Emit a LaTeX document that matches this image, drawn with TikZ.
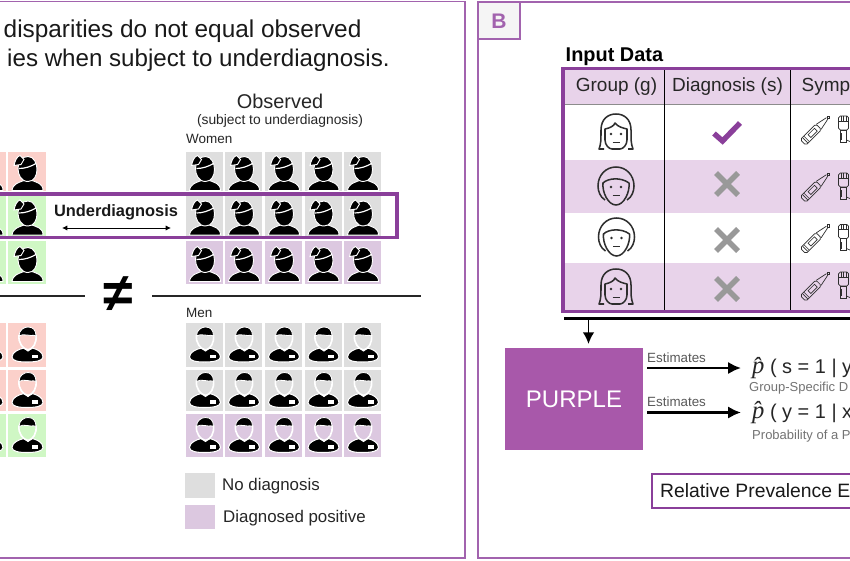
\documentclass[tikz,border=0pt]{standalone}
\usepackage{amsmath,amssymb}
\usepackage{fontspec}
\setmainfont{Liberation Sans}
\newfontfamily\hatfont{Liberation Serif}
\usepackage{tikz}
\usetikzlibrary{calc}
\usetikzlibrary{arrows.meta}
\tikzset{>=latex}
\definecolor{panelpurple}{HTML}{A263AE}
\definecolor{darkpurple}{HTML}{8A3F9A}
\definecolor{rowpurple}{HTML}{E8D3EA}
\definecolor{cellpurple}{HTML}{DCC8E0}
\definecolor{cellgray}{HTML}{DEDEDE}
\definecolor{cellred}{HTML}{FBD0CA}
\definecolor{cellgreen}{HTML}{CFF7C4}
\definecolor{blockpurple}{HTML}{A858AA}
\definecolor{iconline}{HTML}{2E2E2E}
\newcommand{\phat}{{\hatfont\itshape\fontsize{21}{24}\selectfont\^{p}}}
\tikzset{
  plain/.style={inner sep=0pt,anchor=west},
  panelline/.style={draw=panelpurple,line width=1.7pt},
  tablehead/.style={inner sep=0pt,font=\fontsize{16.2}{19}\selectfont,text=black!85},
  smallgray/.style={plain,font=\fontsize{11.1}{13}\selectfont,text=black!55},
  estlabel/.style={plain,font=\fontsize{11.4}{13}\selectfont,text=black!65},
  formula/.style={plain,font=\fontsize{17}{24}\selectfont,text=black!85},
  estarrow/.style={-{Latex[length=11pt,width=10.5pt]},line width=2.1pt},
  crossmark/.style={draw=black!40,line width=4.6pt},
  womanfig/.pic={
    \path[fill=black,draw=white,line width=0.8pt] (-15,19) .. controls (-14,12) and (-8,11) .. (-3,9) -- (5,9) .. controls (10,11) and (16,12) .. (16,19) -- cycle;
    \path[fill=black,draw=white,line width=0.8pt] (1,10) .. controls (-6,10) and (-9,3) .. (-9,-3) .. controls (-9,-10) and (-5,-15) .. (1,-15) .. controls (7,-15) and (10,-8) .. (10,-2) .. controls (10,4) and (7,10) .. (1,10) -- cycle;
    \path[fill=black,draw=white,line width=0.8pt] (-6,-7) -- (-13,-6) .. controls (-12,-11) and (-10,-15) .. (-7,-16) -- (-3,-12) -- cycle;
    \draw[white,line width=1pt] (-8,-3) .. controls (-2,-3) and (4,-5) .. (9,-8);
  },
  manfig/.pic={
    \path[fill=black,draw=white,line width=0.9pt] (-15,12) .. controls (-15,7) and (-8,4) .. (-3,3) -- (1,6) -- (5,3) .. controls (10,4) and (16,7) .. (16,12) .. controls (16,16) and (8,17) .. (0,17) .. controls (-8,17) and (-15,16) .. (-15,12) -- cycle;
    \draw[white,line width=1.4pt] (-8,-10) .. controls (-9,-2) and (-4,4) .. (1,5) .. controls (6,4) and (10,-2) .. (9,-10);
    \path[fill=black,draw=white,line width=0.7pt] (-8,-9) .. controls (-8,-15) and (-3,-18) .. (1,-18) .. controls (6,-18) and (9,-15) .. (9,-9) .. controls (5,-11) and (3,-8) .. (0,-10) .. controls (-3,-11) and (-6,-10) .. (-8,-9) -- cycle;
    \fill[white] (5,9.5) rectangle (11,13);
  },
  womanface/.pic={
    \draw[iconline,line width=1.3pt,line join=round] (-12,17) -- (-17,17) .. controls (-15,12) and (-15,8) .. (-15,-2) .. controls (-15,-13) and (-8,-18) .. (0,-18) .. controls (8,-18) and (15,-13) .. (15,-2) .. controls (15,8) and (15,12) .. (17,17) -- (12,17);
    \draw[iconline,line width=1.3pt,line join=round] (-11,-3) .. controls (-6,-4) and (-2,-6) .. (-1,-9) .. controls (2,-5) and (7,-4) .. (11,-3) -- (11,8) .. controls (11,13) and (7,17) .. (4,17) -- (-4,17) .. controls (-7,17) and (-11,13) .. (-11,8) -- cycle;
    \fill[iconline] (-5,2) circle (1.3) (5,2) circle (1.3);
    \draw[iconline,line width=1.4pt] (-3.5,10.5) -- (3.5,10.5);
  },
  manface/.pic={
    \draw[iconline,line width=1.3pt] (-11,14) .. controls (-16,11) and (-18,5) .. (-18,0) .. controls (-18,-11) and (-10,-19) .. (0,-19) .. controls (10,-19) and (18,-11) .. (18,0) .. controls (18,5) and (16,11) .. (11,14);
    \draw[iconline,line width=1.3pt,line join=round] (-13,-3) .. controls (-8,-8) and (5,-9) .. (13,-3) .. controls (14,6) and (8,19) .. (0,19) .. controls (-8,19) and (-14,6) .. (-13,-3) -- cycle;
    \fill[iconline] (-5,1) circle (1.3) (5,1) circle (1.3);
    \draw[iconline,line width=1.4pt] (-3.5,9.5) -- (3.5,9.5);
  },
  thermo/.pic={
    \begin{scope}[rotate=45]
    \draw[iconline,line width=0.6pt,rounded corners=1.5pt] (-19,-4) rectangle (3,4);
    \draw[iconline,line width=0.6pt] (3,3.5) -- (15,1) (3,-3.5) -- (15,-1);
    \draw[iconline,line width=0.6pt] (16.5,0) circle (1.5);
    \draw[iconline,line width=0.5pt] (-10,-2) rectangle (-1,2);
    \draw[iconline,line width=0.5pt] (-16,-3.5) -- (-16,3.5) (-14,-3.5) -- (-14,3.5);
    \end{scope}
  },
  fisthand/.pic={
    \draw[iconline,line width=0.6pt,rounded corners=1.5pt] (0.5,-13) rectangle (10.5,1);
    \draw[iconline,line width=0.5pt] (3,-13) -- (3,-8) (5.5,-13.5) -- (5.5,-8) (8,-13) -- (8,-8) (0.5,-8) -- (10.5,-8);
    \draw[iconline,line width=0.6pt] (2,1) rectangle (8.5,13);
    \fill[iconline] (2,4) rectangle (4,11);
    \draw[iconline,line width=0.6pt] (8.5,11) -- (13,13);
  }
}
\begin{document}
\begin{tikzpicture}[x=0.03cm,y=-0.03cm]
\useasboundingbox (0,0) rectangle (850,560);
\clip (0,0) rectangle (850,560);
\fill[white] (0,0) rectangle (850,560);

\draw[panelline] (-10,1.5) rectangle (465,558);
\draw[panelline] (478,2) rectangle (860,558);
\draw[panelline,fill=black!4] (478,2) rectangle (520,39);
\node[inner sep=0pt,font=\bfseries\fontsize{18}{20}\selectfont,text=panelpurple] (panelb) at (499,21) {B};

\node[plain,font=\fontsize{20.8}{23}\selectfont,text=black!90] (titlea) at (3.5,31) {disparities do not equal observed};
\node[plain,font=\fontsize{20.6}{23}\selectfont,text=black!90] (titleb) at (7,60) {ies when subject to underdiagnosis.};
\node[inner sep=0pt,font=\fontsize{17}{20}\selectfont,text=black!85] (observed) at (280,101) {Observed};
\node[inner sep=0pt,font=\fontsize{11.8}{14}\selectfont,text=black!85] (subject) at (280,121) {(subject to underdiagnosis)};
\node[plain,font=\fontsize{11.5}{14}\selectfont,text=black!85] (women) at (186,139) {Women};
\node[plain,font=\fontsize{11.5}{14}\selectfont,text=black!85] (men) at (186,313) {Men};

\foreach \ya/\yb/\cl/\cr in {152/191/cellred/cellgray,196/236/cellgreen/cellgray,241/284/cellgreen/cellpurple} {
  \foreach \xa in {-32,8} {
    \fill[\cl] (\xa,\ya) rectangle ({\xa+38},\yb);
    \pic at ({\xa+19},{(\ya+\yb)/2}) {womanfig};
  }
  \foreach \xa in {186,225,265,304.5,344} {
    \fill[\cr] (\xa,\ya) rectangle ({\xa+37},\yb);
    \pic at ({\xa+18.5},{(\ya+\yb)/2}) {womanfig};
  }
}
\foreach \ya/\yb/\cl/\cr in {323/367/cellred/cellgray,370/411/cellred/cellgray,414/457/cellgreen/cellpurple} {
  \foreach \xa in {-32,8} {
    \fill[\cl] (\xa,\ya) rectangle ({\xa+38},\yb);
    \pic at ({\xa+19},{(\ya+\yb)/2}) {manfig};
  }
  \foreach \xa in {186,225,265,304.5,344} {
    \fill[\cr] (\xa,\ya) rectangle ({\xa+37},\yb);
    \pic at ({\xa+18.5},{(\ya+\yb)/2}) {manfig};
  }
}

\draw[draw=darkpurple,line width=2.6pt] (-10,194) rectangle (397,237.5);
\node[inner sep=0pt,font=\bfseries\fontsize{14}{16}\selectfont,text=black!90] (under) at (116,212) {Underdiagnosis};
\coordinate (undera) at (62,228);
\coordinate (underb) at (171,228);
\draw[{Latex[length=4.5pt,width=4.5pt]}-{Latex[length=4.5pt,width=4.5pt]},line width=0.8pt] (undera) -- (underb);

\draw[line width=1.1pt,black!85] (-5,296) -- (85,296);
\draw[line width=1.1pt,black!85] (152,296) -- (421,296);
\node[inner sep=0pt,font=\bfseries\fontsize{46}{50}\selectfont] (noteq) at (118,294) {≠};

\fill[cellgray] (185,473) rectangle (215,498);
\fill[cellpurple] (185,505) rectangle (215,529);
\node[plain,font=\fontsize{14.4}{17}\selectfont,text=black!85] (nodiag) at (222,486) {No diagnosis};
\node[plain,font=\fontsize{14.4}{17}\selectfont,text=black!85] (diagpos) at (223,518) {Diagnosed positive};

\node[plain,font=\bfseries\fontsize{17}{20}\selectfont] (inputdata) at (565.5,57) {Input Data};
\fill[rowpurple] (563,68) rectangle (855,104);
\fill[rowpurple] (563,160) rectangle (855,213);
\fill[rowpurple] (563,263) rectangle (855,311);
\draw[black!45,line width=0.8pt] (563,104) -- (855,104);
\draw[black,line width=0.8pt] (664,68) -- (664,311);
\draw[black,line width=0.8pt] (790,68) -- (790,311);
\draw[draw=darkpurple,line width=2.6pt] (563,68.5) rectangle (860,311.5);

\node[tablehead] (grouphead) at (616.5,87) {Group (g)};
\node[tablehead] (diaghead) at (727.5,87) {Diagnosis (s)};
\node[tablehead,anchor=west] (symphead) at (801.5,87) {Symp};

\pic at (616,132) {womanface};
\pic at (616,186) {manface};
\pic at (616.5,237) {manface};
\pic at (616,287) {womanface};

\draw[draw=darkpurple,line width=4.6pt] (714,133.5) -- (722.5,141) -- (740,123);
\foreach \cy in {184,240,289} {
  \draw[crossmark] ({727-11},{\cy-11}) -- ({727+11},{\cy+11});
  \draw[crossmark] ({727-11},{\cy+11}) -- ({727+11},{\cy-11});
}
\foreach \cy in {129,186,237.5,285} {
  \pic at (816.5,\cy) {thermo};
  \pic at (838,\cy) {fisthand};
}

\coordinate (barstart) at (564,318.5);
\coordinate (barend) at (855,318.5);
\coordinate (barout) at (588.5,318.5);
\draw[line width=2.2pt] (barstart) -- (barend);

\node[inner sep=0pt,fill=blockpurple,minimum width=138.5*0.03cm,minimum height=102*0.03cm,text=white,font=\fontsize{20.5}{24}\selectfont] (purple) at (574,399) {PURPLE};
\coordinate (purplein) at (588.5,344);
\draw[-{Latex[length=10pt,width=10pt]},line width=1.6pt] (barout) -- (purplein);

\node[estlabel] (estima) at (647,358) {Estimates};
\node[estlabel] (estimb) at (647,401.5) {Estimates};
\node[formula] (phata) at (752,368) {\phat\ ( s = 1 | y};
\node[formula] (phatb) at (752,412.5) {\phat\ ( y = 1 | x};
\coordinate (esta) at (647,368);
\coordinate (estb) at (647,412.5);
\draw[estarrow] (esta) -- (esta -| 741,0);
\draw[estarrow] (estb) -- (estb -| 741,0);
\node[smallgray] (groupspec) at (749,388) {Group-Specific D};
\node[smallgray] (probof) at (752,436) {Probability of a P};

\draw[draw=darkpurple,line width=2.4pt] (652,474) rectangle (860,508);
\node[plain,font=\fontsize{16.5}{19}\selectfont,text=black!90] (relprev) at (660,491) {Relative Prevalence E};
\end{tikzpicture}
\end{document}
